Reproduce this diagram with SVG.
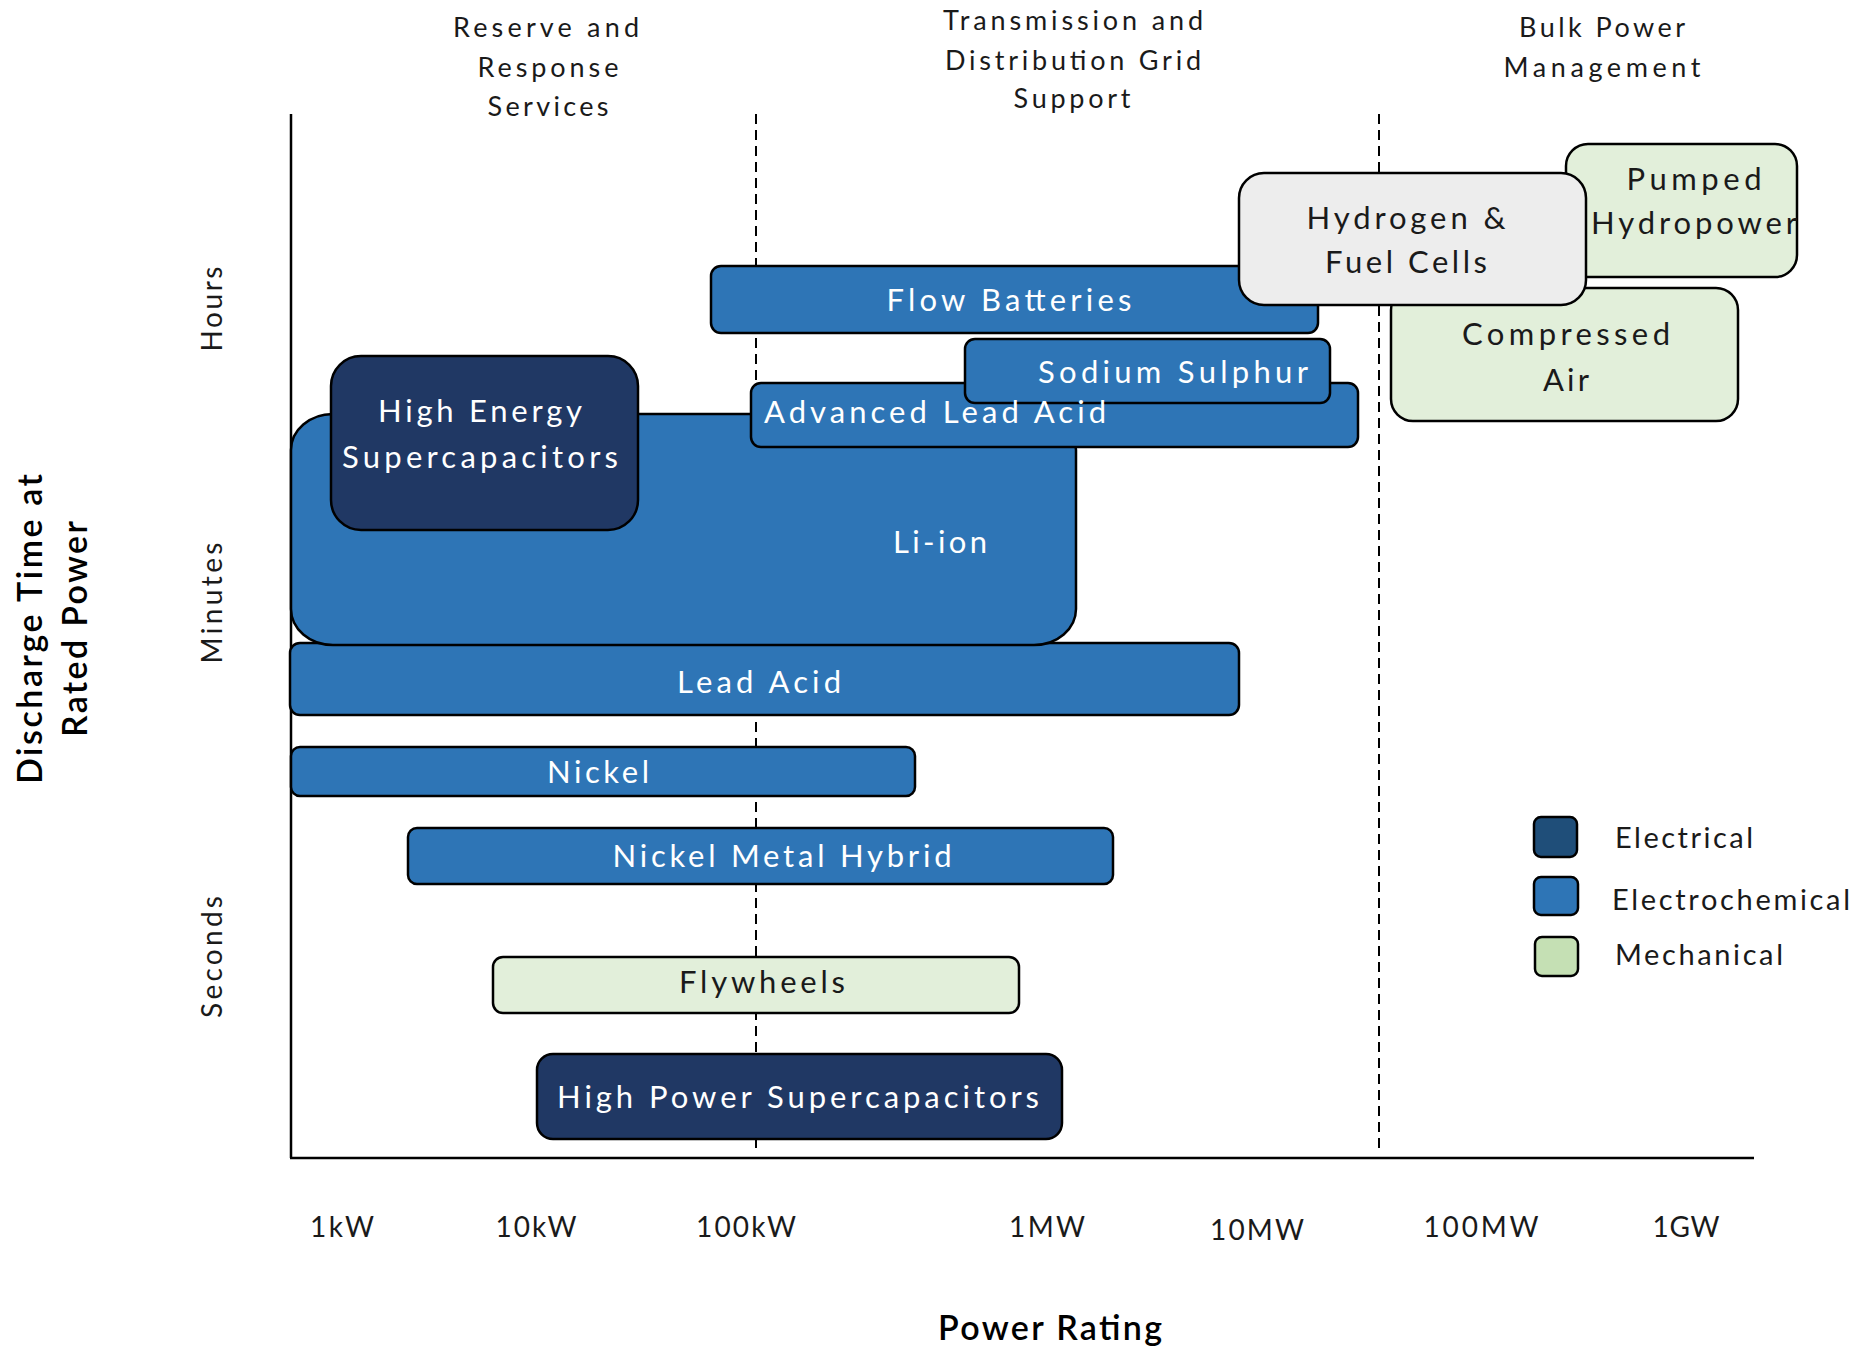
<svg xmlns="http://www.w3.org/2000/svg" width="1857" height="1349" viewBox="0 0 1857 1349">
<style>
.bx{stroke:#000;stroke-width:2.5}
.ec{fill:#2E75B6}
.el{fill:#203864}
.me{fill:#E2EFDA}
.hy{fill:#EDEDED}
.t{font-family:Lato,"Liberation Sans",sans-serif;font-size:31px;text-anchor:middle}
.w{fill:#FFFFFF}
.d{fill:#1A1A1A}
.hdr{font-family:Lato,"Liberation Sans",sans-serif;font-size:27px;fill:#1A1A1A;text-anchor:middle}
.tick{font-family:Lato,"Liberation Sans",sans-serif;font-size:28px;fill:#1A1A1A;text-anchor:middle}
.ttl{font-family:Lato,"Liberation Sans",sans-serif;font-size:34px;font-weight:600;fill:#000;text-anchor:middle}
.leg{font-family:Lato,"Liberation Sans",sans-serif;font-size:29px;fill:#1A1A1A}
.ax{stroke:#000;stroke-width:2.5;fill:none}
.dash{stroke:#000;stroke-width:2;stroke-dasharray:10 6;fill:none}
</style>
<rect width="1857" height="1349" fill="#FFFFFF"/>

<g id="connectors">
<line class="dash" x1="756" y1="114" x2="756" y2="1152"/>
<line class="dash" x1="1379" y1="114" x2="1379" y2="1152"/>
<line class="ax" x1="291" y1="114" x2="291" y2="1158"/>
<line class="ax" x1="290" y1="1158" x2="1754" y2="1158"/>
</g>

<g id="headers">
<text class="hdr" x="546" y="37" textLength="186" lengthAdjust="spacing">Reserve and</text>
<text class="hdr" x="548" y="77" textLength="141" lengthAdjust="spacing">Response</text>
<text class="hdr" x="548" y="116" textLength="121" lengthAdjust="spacing">Services</text>
<text class="hdr" x="1073" y="30" textLength="260" lengthAdjust="spacing">Transmission and</text>
<text class="hdr" x="1073" y="70" textLength="256" lengthAdjust="spacing">Distribution Grid</text>
<text class="hdr" x="1072" y="108" textLength="117" lengthAdjust="spacing">Support</text>
<text class="hdr" x="1602" y="37" textLength="166" lengthAdjust="spacing">Bulk Power</text>
<text class="hdr" x="1602" y="77" textLength="197" lengthAdjust="spacing">Management</text>
</g>

<g id="axis-labels">
<text class="tick" x="342" y="1237" textLength="64" lengthAdjust="spacing">1kW</text>
<text class="tick" x="536" y="1237" textLength="81" lengthAdjust="spacing">10kW</text>
<text class="tick" x="746" y="1237" textLength="100" lengthAdjust="spacing">100kW</text>
<text class="tick" x="1047" y="1237" textLength="76" lengthAdjust="spacing">1MW</text>
<text class="tick" x="1257" y="1240" textLength="94" lengthAdjust="spacing">10MW</text>
<text class="tick" x="1481" y="1237" textLength="115" lengthAdjust="spacing">100MW</text>
<text class="tick" x="1686" y="1237" textLength="67" lengthAdjust="spacing">1GW</text>
<text class="ttl" x="1050" y="1340" textLength="224" lengthAdjust="spacing">Power Rating</text>
<text class="ttl" transform="translate(42,629) rotate(-90)" x="0" y="0" textLength="310" lengthAdjust="spacing">Discharge Time at</text>
<text class="ttl" transform="translate(87,629) rotate(-90)" x="0" y="0" textLength="216" lengthAdjust="spacing">Rated Power</text>
<text class="tick" transform="translate(222,309) rotate(-90)" x="0" y="0" textLength="85" lengthAdjust="spacing">Hours</text>
<text class="tick" transform="translate(222,603) rotate(-90)" x="0" y="0" textLength="121" lengthAdjust="spacing">Minutes</text>
<text class="tick" transform="translate(222,957) rotate(-90)" x="0" y="0" textLength="122" lengthAdjust="spacing">Seconds</text>
</g>

<g id="lead-acid">
<rect class="bx ec" x="290" y="643" width="949" height="72" rx="10"/>
<text class="t w" x="759" y="693" textLength="164" lengthAdjust="spacing">Lead Acid</text>
</g>

<g id="li-ion">
<rect class="bx ec" x="291" y="414" width="785" height="231" rx="42" ry="36"/>
<text class="t w" x="940" y="553" textLength="94" lengthAdjust="spacing">Li-ion</text>
</g>

<g id="high-energy-supercapacitors">
<rect class="bx el" x="331" y="356" width="307" height="174" rx="30"/>
<text class="t w" x="480" y="422" textLength="204" lengthAdjust="spacing">High Energy</text>
<text class="t w" x="480" y="468" textLength="276" lengthAdjust="spacing">Supercapacitors</text>
</g>

<g id="flow-batteries">
<rect class="bx ec" x="711" y="266" width="607" height="67" rx="10"/>
<text class="t w" x="1009" y="311" textLength="245" lengthAdjust="spacing">Flow Batteries</text>
</g>

<g id="advanced-lead-acid">
<rect class="bx ec" x="751" y="383" width="607" height="64" rx="10"/>
</g>

<g id="sodium-sulphur">
<rect class="bx ec" x="965" y="339" width="365" height="64" rx="10"/>
<text class="t w" x="1173" y="383" textLength="270" lengthAdjust="spacing">Sodium Sulphur</text>
</g>

<g id="advanced-lead-acid-label">
<text class="t w" x="764" y="423" style="text-anchor:start" textLength="342" lengthAdjust="spacing">Advanced Lead Acid</text>
</g>

<g id="pumped-hydropower">
<rect class="bx me" x="1566" y="144" width="231" height="133" rx="22"/>
<text class="t d" x="1694" y="190" textLength="135" lengthAdjust="spacing">Pumped</text>
<text class="t d" x="1694" y="234" textLength="206" lengthAdjust="spacing">Hydropower</text>
</g>

<g id="compressed-air">
<rect class="bx me" x="1391" y="288" width="347" height="133" rx="22"/>
<text class="t d" x="1566" y="345" textLength="208" lengthAdjust="spacing">Compressed</text>
<text class="t d" x="1566" y="391" textLength="46" lengthAdjust="spacing">Air</text>
</g>

<g id="hydrogen-fuel-cells">
<rect class="bx hy" x="1239" y="173" width="347" height="132" rx="25"/>
<text class="t d" x="1406" y="229" textLength="199" lengthAdjust="spacing">Hydrogen &amp;</text>
<text class="t d" x="1406" y="273" textLength="162" lengthAdjust="spacing">Fuel Cells</text>
</g>

<g id="nickel-cadmium">
<rect class="bx ec" x="291" y="747" width="624" height="49" rx="9"/>
<text class="t w" x="598" y="783" textLength="102" lengthAdjust="spacing">Nickel</text>
<text class="t w" x="598" y="844" textLength="150" lengthAdjust="spacing">Cadmium</text>
</g>

<g id="nickel-metal-hybrid">
<rect class="bx ec" x="408" y="828" width="705" height="56" rx="9"/>
<text class="t w" x="782" y="867" textLength="339" lengthAdjust="spacing">Nickel Metal Hybrid</text>
</g>

<g id="flywheels">
<rect class="bx me" x="493" y="957" width="526" height="56" rx="10"/>
<text class="t d" x="762" y="993" textLength="166" lengthAdjust="spacing">Flywheels</text>
</g>

<g id="high-power-supercapacitors">
<rect class="bx el" x="537" y="1054" width="525" height="85" rx="16"/>
<text class="t w" x="798" y="1108" textLength="482" lengthAdjust="spacing">High Power Supercapacitors</text>
</g>

<g id="legend">
<rect class="bx" fill="#1F4E79" x="1534" y="817" width="43" height="40" rx="7"/>
<text class="leg" x="1615" y="848" textLength="138" lengthAdjust="spacing">Electrical</text>
<rect class="bx ec" x="1534" y="877" width="44" height="38" rx="7"/>
<text class="leg" x="1612" y="910" textLength="238" lengthAdjust="spacing">Electrochemical</text>
<rect class="bx" fill="#C5E0B4" x="1535" y="937" width="43" height="39" rx="7"/>
<text class="leg" x="1615" y="965" textLength="168" lengthAdjust="spacing">Mechanical</text>
</g>
</svg>
